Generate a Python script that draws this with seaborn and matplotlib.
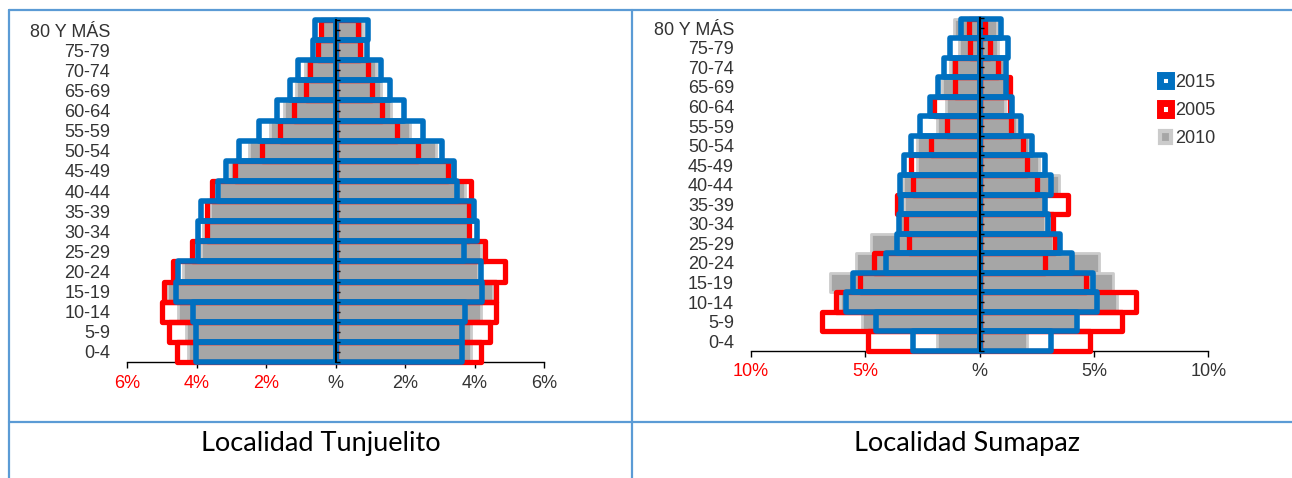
import matplotlib
matplotlib.use("Agg")
import matplotlib.pyplot as plt
import numpy as np
import seaborn as sns
from matplotlib.lines import Line2D
from matplotlib.patches import Patch

# age groups, top of the pyramid first
AGES = ["80 Y MÁS", "75-79", "70-74", "65-69", "60-64", "55-59", "50-54",
        "45-49", "40-44", "35-39", "30-34", "25-29", "20-24", "15-19",
        "10-14", "5-9", "0-4"]

# Tunjuelito, % of population (men on the left, women on the right)
tun_h_2015 = [0.59, 0.65, 1.07, 1.31, 1.68, 2.19, 2.78, 3.16, 3.39, 3.88, 3.95, 3.97, 4.52, 4.58, 4.11, 4.01, 4.01]
tun_h_2005 = [0.41, 0.50, 0.73, 0.85, 1.18, 1.59, 2.11, 2.88, 3.56, 3.71, 3.69, 4.14, 4.69, 4.94, 4.98, 4.78, 4.57]
tun_h_2010 = [0.42, 0.52, 0.89, 1.13, 1.47, 1.88, 2.48, 3.05, 3.35, 3.61, 3.80, 3.87, 4.40, 4.86, 4.54, 4.30, 4.25]
tun_m_2015 = [0.94, 0.91, 1.30, 1.56, 1.97, 2.53, 3.07, 3.41, 3.50, 3.99, 4.08, 3.71, 4.18, 4.23, 3.73, 3.63, 3.63]
tun_m_2005 = [0.66, 0.70, 0.93, 1.04, 1.33, 1.77, 2.37, 3.24, 3.89, 3.84, 3.85, 4.29, 4.89, 4.63, 4.63, 4.44, 4.18]
tun_m_2010 = [0.79, 0.75, 1.17, 1.32, 1.60, 2.13, 2.90, 3.45, 3.74, 3.80, 3.80, 4.20, 4.10, 4.53, 4.20, 3.91, 3.90]

# Sumapaz
sum_h_2015 = [0.80, 1.31, 1.53, 1.82, 2.15, 2.62, 2.98, 3.32, 3.49, 3.42, 3.52, 3.59, 4.09, 5.55, 5.84, 4.53, 2.91]
sum_h_2005 = [0.45, 0.41, 1.08, 1.08, 2.00, 1.40, 2.12, 2.98, 2.91, 3.59, 3.20, 3.10, 4.59, 5.23, 6.26, 6.89, 4.86]
sum_h_2010 = [1.12, 0.90, 1.27, 1.63, 1.48, 1.85, 2.72, 2.75, 3.35, 3.30, 3.55, 4.76, 5.41, 6.54, 6.11, 5.12, 1.85]
sum_m_2015 = [0.96, 1.25, 1.18, 1.18, 1.40, 1.83, 2.30, 2.88, 3.14, 2.85, 3.00, 3.54, 4.05, 4.95, 5.15, 4.25, 3.13]
sum_m_2005 = [0.25, 0.45, 0.83, 1.35, 1.35, 1.38, 1.89, 2.07, 2.53, 3.86, 3.20, 3.32, 2.87, 4.66, 6.84, 6.21, 4.83]
sum_m_2010 = [0.77, 0.80, 1.06, 1.10, 1.10, 1.65, 2.15, 2.59, 3.46, 2.80, 2.85, 3.20, 5.21, 5.84, 6.01, 4.20, 2.08]

TUN_TICKS = [-6, -4, -2, 0, 2, 4, 6]
SUM_TICKS = [-10, -5, 0, 5, 10]

BLUE = "#0070c0"
RED = "#ff0000"
GRAY = "#a6a6a6"
GLOW = "#cbcbcb"
BORDER = "#5b9bd5"
TEXT = "#333333"

# year -> (face, edge, linewidth, zorder)
STYLES = {
    "2010": (GRAY, GLOW, 2.0, 2),
    "2005": ("none", RED, 3.8, 3),
    "2015": ("none", BLUE, 4.0, 4),
}

sns.set_theme(style="white")
plt.rcParams["font.family"] = ["Liberation Sans", "DejaVu Sans"]

fig = plt.figure(figsize=(12.92, 4.78), dpi=100)
W, H = 1292, 478


def px_axes(x0, x1, y_top, y_bot):
    return fig.add_axes([x0 / W, 1 - y_bot / H, (x1 - x0) / W, (y_bot - y_top) / H])


def pyramid(ax, hombres, mujeres, ticks):
    for sign, side in ((-1, hombres), (1, mujeres)):
        for year in ("2010", "2005", "2015"):
            face, edge, lw, z = STYLES[year]
            vals = [sign * v for v in side[year]]
            sns.barplot(x=vals, y=AGES, orient="h", width=1.0, ax=ax, color=GRAY)
            for bar in ax.containers[-1]:
                bar.set_facecolor(face)
                bar.set_edgecolor(edge)
                bar.set_linewidth(lw)
                bar.set_zorder(z)
                bar.set_clip_on(False)
                bar.set_joinstyle("round")

    lim = max(abs(t) for t in ticks)
    ax.set_xlim(-lim, lim)
    ax.set_ylim(len(AGES) - 0.5, -0.5)
    ax.set_xticks(ticks)
    ax.set_xticklabels([f"{abs(t)}%" if t else "%" for t in ticks])
    for t, lab in zip(ticks, ax.get_xticklabels()):
        lab.set_color(RED if t < 0 else TEXT)
    ax.set_xlabel("")
    ax.set_ylabel("")

    for s in ("top", "right", "left"):
        ax.spines[s].set_visible(False)
    ax.spines["bottom"].set_color("black")
    ax.spines["bottom"].set_linewidth(1.0)
    ax.tick_params(axis="x", bottom=True, direction="out", length=4, width=1,
                   color="black", pad=5, labelsize=13)
    ax.tick_params(axis="y", left=False, length=0, pad=12, labelsize=13,
                   labelcolor=TEXT)

    # centre axis with small category ticks
    sec = ax.secondary_yaxis(0.5)
    sec.set_yticks(np.arange(-0.5, len(AGES), 0.5))
    sec.tick_params(axis="y", left=True, right=False, direction="in", length=3,
                    width=1, color="black", labelleft=False, labelright=False)
    for s in sec.spines.values():
        s.set_color("black")
        s.set_linewidth(1.5)
    sec.set_zorder(5)


ax1 = px_axes(127, 544, 20, 362)
pyramid(ax1,
        {"2015": tun_h_2015, "2005": tun_h_2005, "2010": tun_h_2010},
        {"2015": tun_m_2015, "2005": tun_m_2005, "2010": tun_m_2010},
        TUN_TICKS)

ax2 = px_axes(750.7, 1208.3, 18.5, 351)
pyramid(ax2,
        {"2015": sum_h_2015, "2005": sum_h_2005, "2010": sum_h_2010},
        {"2015": sum_m_2015, "2005": sum_m_2005, "2010": sum_m_2010},
        SUM_TICKS)

handles = [
    Patch(facecolor="white", edgecolor=BLUE, linewidth=5),
    Patch(facecolor="white", edgecolor=RED, linewidth=5),
    Patch(facecolor=GRAY, edgecolor=GLOW, linewidth=3),
]
fig.legend(handles, ["2015", "2005", "2010"], loc="upper left",
           bbox_to_anchor=(1160 / W, 1 - 74 / H), frameon=False, fontsize=13,
           handlelength=0.6, handleheight=0.6, handletextpad=0.25,
           labelspacing=0.62, borderpad=0, borderaxespad=0, labelcolor=TEXT)

# table borders
for (x0, y0, x1, y1) in [(9, 10, W, 10), (9, 10, 9, H), (632, 10, 632, H), (9, 422, W, 422)]:
    fig.add_artist(Line2D([x0 / W, x1 / W], [1 - y0 / H, 1 - y1 / H],
                          transform=fig.transFigure, color=BORDER, lw=1.6))

cap_font = ["Lato", "DejaVu Sans"]
fig.text(321 / W, 1 - 443 / H, "Localidad Tunjuelito", ha="center", va="center",
         fontsize=19.5, family=cap_font, color="black")
fig.text(967 / W, 1 - 443 / H, "Localidad Sumapaz", ha="center", va="center",
         fontsize=19.5, family=cap_font, color="black")

fig.savefig("out.png", dpi=100, facecolor="white")
